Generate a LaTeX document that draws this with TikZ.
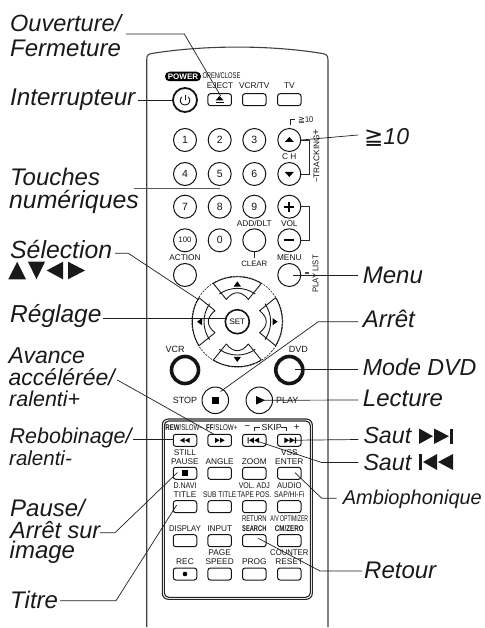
\documentclass[tikz,border=0pt]{standalone}
\usepackage{fontspec}
\setmainfont{Liberation Sans}
\newfontfamily\djv{DejaVu Sans}
\newcommand{\labs}[1]{\fontsize{#1}{#1}\selectfont\itshape}
\newcommand{\cnd}[2]{\scalebox{#1}[1]{#2}}
\tikzset{
 big/.style={inner sep=0pt,anchor=base west,font=\labs{24},text=black!90},
 tiny/.style={inner sep=0pt,font=\fontsize{8.3}{9}\selectfont,text=black!92},
 numb/.style={draw=black!92,line width=1pt,circle,minimum size=23pt,inner sep=0pt,font=\fontsize{10.5}{11}\selectfont,text=black!92},
 btn/.style={draw=black!92,line width=1pt,rectangle,rounded corners=2.5pt,minimum width=23.5pt,minimum height=12pt,inner sep=0pt},
 ring/.style={draw=black!92,circle,inner sep=0pt},
 shell/.style={draw=black!75,line width=1.1pt},
 conn/.style={draw=black!88,line width=.7pt},
 ico/.style={fill=black,draw=none},
 thinl/.style={draw=black!85,line width=.8pt},
}
\begin{document}
\begin{tikzpicture}[x=1pt,y=-1pt]
\useasboundingbox (0,0) rectangle (484,628);
% shell
\draw[shell] (146.7,627) -- (146.7,60) .. controls (146.7,55) and (148,54) .. (153,53.3) .. controls (205,45) and (270,45) .. (321,53.3) .. controls (326,54) and (328,55) .. (328,60) -- (328,627);
% panel
\draw[shell,rounded corners=6pt,draw=black!85] (162.3,419) rectangle (312.3,599.3);
\draw[shell,rounded corners=4.5pt,draw=black!85] (164.3,421) rectangle (310.3,597.3);
% top
\node[fill=black,rounded corners=4.5pt,minimum width=36pt,minimum height=9.5pt,inner sep=0pt,text=white,font=\fontsize{8}{8}\selectfont\bfseries] (tpower) at (183,76.5) {POWER};
\node[tiny] (topen) at (221.5,76) {\cnd{.7}{OPEN/CLOSE}};
\node[tiny] (teject) at (220,85.7) {EJECT};
\node[tiny] (tvcrtv) at (254.3,85.7) {VCR/TV};
\node[tiny] (ttv) at (289.3,85.7) {TV};
\node[ring,line width=1.8pt,minimum size=24pt] (bpower) at (185,100) {};
\draw[line width=.9pt,black!90] (181.7,96.8) .. controls (178.5,100) and (180.5,105) .. (185,105) .. controls (189.5,105) and (191.5,100) .. (188.3,96.8);
\draw[line width=.9pt,black!90] (185,95) -- (185,100.5);
\node[btn] (beject) at (219.7,99.7) {};
\fill[ico] (215.5,100.5) -- (223.5,100.5) -- (219.5,96) -- cycle;
\fill[ico] (215.5,102) rectangle (223.5,103.2);
\node[btn] (bvcrtv) at (254.3,99.7) {};
\node[btn] (btv) at (289.3,99.7) {};
% number pad
\node[numb] (n1) at (185,140) {1};
\node[numb] (n2) at (219.7,140) {2};
\node[numb] (n3) at (254.3,140) {3};
\node[numb] (bup) at (289.3,140) {};
\node[numb] (n4) at (185,174) {4};
\node[numb] (n5) at (219.7,174) {5};
\node[numb] (n6) at (254.3,174) {6};
\node[numb] (bdn) at (289.3,174) {};
\node[numb] (n7) at (185,206.7) {7};
\node[numb] (n8) at (219.7,206.7) {8};
\node[numb] (n9) at (254.3,206.7) {9};
\node[numb] (bplus) at (289.3,206.7) {};
\node[numb,font=\fontsize{7.8}{8}\selectfont] (n100) at (185,240.3) {100};
\node[numb] (n0) at (219.7,240.3) {0};
\node[numb] (badd) at (254.3,240.3) {};
\node[numb] (bminus) at (289.3,240.3) {};
\node[numb] (baction) at (185,275) {};
\node[numb] (bmenu) at (289.3,275) {};
\fill[ico] (284.8,142) -- (293.8,142) -- (289.3,137) -- cycle;
\fill[ico] (284.8,172) -- (293.8,172) -- (289.3,177) -- cycle;
\fill[ico] (284.3,205.8) rectangle (294.3,207.6);
\fill[ico] (288.4,201.7) rectangle (290.2,211.7);
\fill[ico] (284.3,239.4) rectangle (294.3,241.2);
\node[tiny] (tch) at (289.3,156.7) {C H};
\node[tiny] (tvol) at (289.3,224) {VOL};
\node[tiny] (tadd) at (254.3,224) {ADD/DLT};
\node[tiny,font=\fontsize{7.8}{8}\selectfont] (tclear) at (254.3,263.5) {CLEAR};
\node[tiny] (taction) at (185,257.5) {ACTION};
\node[tiny] (tmenu) at (289.3,257.5) {MENU};
\node[tiny,rotate=90] (ttrack) at (316.5,156) {−TRACKING{\fontsize{10.5}{10}\selectfont +}};
\node[tiny,rotate=90] (tplay) at (315.5,274) {\cnd{.93}{PLAY LIST}};
\node[tiny] (tten) at (305.7,120) {{\djv ≧}\cnd{.9}{10}};
\draw[thinl] (290,125) -- (290,119.3) -- (295,119.3);
\draw[thinl] (300.7,140) -- (309.3,140) -- (309.3,174) -- (300.7,174);
\draw[thinl] (300.7,206.7) -- (309.3,206.7) -- (309.3,240.3) -- (300.7,240.3);
\draw[thinl] (254.3,252) -- (254.3,258);
\fill[black!70] (305,272.3) rectangle (308.5,274.3);
% d-pad
\node[ring,line width=.6pt,minimum size=91pt,dash pattern=on 2pt off 1.2pt] (bring) at (237.3,321.7) {};
\foreach \a in {0,90,180,270}{
 \begin{scope}[shift={(237.3,321.7)},rotate=\a]
 \draw[black!90,line width=.9pt,line join=round] (-24,-38.3) .. controls (-9.6,-47.2) and (9.6,-47.2) .. (24,-38.3) -- (11,-22.3) .. controls (4,-31.2) and (-4,-31.2) .. (-11,-22.3) -- cycle;
 \draw[black!90,line width=.9pt] (-18,-27.7) .. controls (-7,-35.2) and (7,-35.2) .. (18,-27.7);
 \fill[ico] (-3.6,-35.2) -- (3.6,-35.2) -- (0,-40.3) -- cycle;
 \end{scope}}
\node[ring,line width=1.6pt,minimum size=24pt,fill=white,font=\fontsize{8}{8}\selectfont] (bset) at (237.3,321.7) {SET};
\node[ring,line width=3.6pt,minimum size=27pt] (bvcr) at (185,370) {};
\node[ring,line width=3.6pt,minimum size=27pt] (bdvd) at (289.3,370) {};
\node[tiny,font=\fontsize{9}{9}\selectfont] (tvcr) at (175,349) {VCR};
\node[tiny,font=\fontsize{9}{9}\selectfont] (tdvd) at (298.3,349) {DVD};
\node[numb,minimum size=26.5pt] (bstop) at (215.3,400.3) {};
\node[numb,minimum size=26.5pt] (bplay) at (259.3,400.3) {};
\fill[ico] (211.7,396.7) rectangle (218.9,403.9);
\fill[ico] (256,396) -- (256,404.6) -- (265,400.3) -- cycle;
\node[tiny,font=\fontsize{9}{9}\selectfont] (tstop) at (185,400.3) {STOP};
\node[tiny,font=\fontsize{9}{9}\selectfont] (tplayb) at (287.3,400.3) {PLAY};
% panel row 1
\node[tiny] (trew) at (184.2,427.3) {\cnd{.74}{\textbf{REW}/SLOW−}};
\node[tiny] (tff) at (221.7,427.3) {\cnd{.75}{\textbf{FF}/SLOW+}};
\node[tiny,font=\fontsize{10}{10}\selectfont] (tm) at (247.3,427.3) {−};
\node[tiny,font=\fontsize{8.8}{9}\selectfont] (tskip) at (271.7,427.3) {SKIP};
\node[tiny,font=\fontsize{10}{10}\selectfont] (tp) at (296.7,427.3) {+};
\draw[thinl] (254.5,431) -- (254.5,427.3) -- (260,427.3);
\draw[thinl] (281,427.3) -- (286,427.3) -- (286,431);
\node[btn] (brew) at (185,440.3) {};
\node[btn] (bff) at (219.7,440.3) {};
\node[btn] (bprev) at (254.3,440.3) {};
\node[btn] (bnext) at (289.3,440.3) {};
\fill[ico] (180,440.3) -- (184.5,437.8) -- (184.5,442.8) -- cycle (185,440.3) -- (189.5,437.8) -- (189.5,442.8) -- cycle;
\fill[ico] (224.7,440.3) -- (220.2,437.8) -- (220.2,442.8) -- cycle (219.7,440.3) -- (215.2,437.8) -- (215.2,442.8) -- cycle;
\fill[ico] (247.5,437.3) rectangle (248.7,443.3) (249,440.3) -- (253.8,437.5) -- (253.8,443.1) -- cycle (254.3,440.3) -- (259.1,437.5) -- (259.1,443.1) -- cycle;
\fill[ico] (296,437.3) rectangle (294.8,443.3) (294.5,440.3) -- (289.7,437.5) -- (289.7,443.1) -- cycle (289.2,440.3) -- (284.4,437.5) -- (284.4,443.1) -- cycle;
% row 2
\node[tiny] (tstill) at (185,452.7) {STILL};
\node[tiny] (tpause) at (185,461.7) {PAUSE};
\node[tiny] (tangle) at (219.7,461.7) {ANGLE};
\node[tiny] (tzoom) at (254.3,461.7) {ZOOM};
\node[tiny] (tvss) at (289.3,452.7) {VSS};
\node[tiny] (tenter) at (289.3,461.7) {ENTER};
\node[btn] (bpause) at (185,473.3) {};
\node[btn] (bangle) at (219.7,473.3) {};
\node[btn] (bzoom) at (254.3,473.3) {};
\node[btn] (benter) at (289.3,473.3) {};
\fill[ico] (182,470.3) rectangle (188,476.3);
% row 3
\node[tiny] (tdnavi) at (185,486) {\cnd{.85}{D.NAVI}};
\node[tiny] (ttitle) at (185,494.3) {TITLE};
\node[tiny] (tsub) at (219.7,494.3) {\cnd{.79}{SUB TITLE}};
\node[tiny] (tvoladj) at (254.3,486) {\cnd{.84}{VOL. ADJ}};
\node[tiny] (ttape) at (254.3,494.3) {\cnd{.78}{TAPE POS.}};
\node[tiny] (taudio) at (289.3,486) {\cnd{.93}{AUDIO}};
\node[tiny] (tsap) at (289.3,494.3) {\cnd{.82}{SAP/HI-Fi}};
\node[btn] (btitle) at (185,506.7) {};
\node[btn] (bsub) at (219.7,506.7) {};
\node[btn] (bvol) at (254.3,506.7) {};
\node[btn] (baudio) at (289.3,506.7) {};
% row 4
\node[tiny] (tdisplay) at (185,528.7) {\cnd{.92}{DISPLAY}};
\node[tiny] (tinput) at (219.7,528.7) {INPUT};
\node[tiny] (treturn) at (254.3,519) {\cnd{.71}{RETURN}};
\node[tiny] (tsearch) at (254.3,528.7) {\cnd{.69}{\textbf{SEARCH}}};
\node[tiny] (toptim) at (289.3,519) {\cnd{.62}{A/V OPTIMIZER}};
\node[tiny] (tcm) at (289.3,528.7) {\cnd{.75}{\textbf{CM/ZERO}}};
\node[btn] (bdisplay) at (185,540.7) {};
\node[btn] (binput) at (219.7,540.7) {};
\node[btn] (bsearch) at (254.3,540.7) {};
\node[btn] (bcm) at (289.3,540.7) {};
% row 5
\node[tiny] (trec) at (185,561.7) {REC};
\node[tiny] (tpage) at (219.7,552.7) {PAGE};
\node[tiny] (tspeed) at (219.7,561.7) {SPEED};
\node[tiny] (tprog) at (254.3,561.7) {PROG};
\node[tiny] (tcounter) at (289.3,552.7) {\cnd{.93}{COUNTER}};
\node[tiny] (treset) at (289.3,561.7) {RESET};
\node[btn] (brec) at (185,574) {};
\node[btn] (bspeed) at (219.7,574) {};
\node[btn] (bprog) at (254.3,574) {};
\node[btn] (breset) at (289.3,574) {};
\fill[ico] (185,574) circle (2.3pt);
% labels left
\node[big,font=\labs{23.5}] (lo1) at (10,31.7) {Ouverture/};
\node[big] (lo2) at (10,56.7) {Fermeture};
\node[big,font=\labs{24.2}] (lint) at (10,106) {Interrupteur};
\node[big] (lt1) at (10,185.7) {Touches};
\node[big,font=\labs{24.8}] (lt2) at (9,208.3) {numériques};
\node[big,font=\labs{24.8}] (lsel) at (10,258.3) {Sélection};
\fill[black!90] (8.3,279.3) -- (26,279.3) -- (17.2,261.7) -- cycle;
\fill[black!90] (28,261.7) -- (45,261.7) -- (36.5,279.3) -- cycle;
\fill[black!90] (46.7,270.5) -- (63,261.7) -- (63,279.3) -- cycle;
\fill[black!90] (68,261.7) -- (68,279.3) -- (85,270.5) -- cycle;
\node[big,font=\labs{24.5}] (lreg) at (10,322.3) {Réglage};
\node[big,font=\labs{23}] (la1) at (8.5,363.3) {Avance};
\node[big,font=\labs{23}] (la2) at (8.5,385) {accélérée/};
\node[big,font=\labs{21.5}] (la3) at (9,406.7) {ralenti+};
\node[big,font=\labs{21.5}] (lr1) at (9.5,443.3) {Rebobinage/};
\node[big,font=\labs{20.5}] (lr2) at (9,465) {ralenti-};
\node[big] (lp1) at (10,516.7) {Pause/};
\node[big,font=\labs{23.5}] (lp2) at (10,538.3) {Arrêt sur};
\node[big] (lp3) at (9.5,558.3) {image};
\node[big] (ltitre) at (10,608) {Titre};
% labels right
\node[big,font=\labs{23}] (lge) at (364,145) {{\djv\itshape ≧}10};
\node[big] (lmenu) at (362.7,283.3) {Menu};
\node[big] (larret) at (362.7,327.3) {Arrêt};
\node[big,font=\labs{23.2}] (lmode) at (362.7,375.7) {Mode DVD};
\node[big] (llect) at (362.7,406.7) {Lecture};
\node[big,font=\labs{23.2}] (ls1) at (363.3,443.3) {Saut};
\node[big,font=\labs{23.2}] (ls2) at (363.3,470) {Saut};
\fill[black!90] (419,428.5) -- (419,444) -- (433,436.2) -- cycle (434,428.5) -- (434,444) -- (449,436.2) -- cycle;
\fill[black!90] (450,428.5) rectangle (453,444);
\fill[black!90] (419,454) rectangle (422,470);
\fill[black!90] (423,462) -- (437,454) -- (437,470) -- cycle (438,462) -- (453,454) -- (453,470) -- cycle;
\node[big,font=\labs{20}] (lamb) at (342.7,504.3) {Ambiophonique};
\node[big] (lret) at (364,578) {Retour};
% connector ends
\coordinate (sou) at (126,34);
\coordinate (kou) at (184.3,34);
\coordinate (eou) at (220.7,96);
\coordinate (sint) at (138.3,100);
\coordinate (ege) at (358,135);
\coordinate (stou) at (134,188.7);
\coordinate (etou) at (220,188.7);
\coordinate (ssel) at (115,253.3);
\coordinate (ksel) at (128.3,253.3);
\coordinate (esel) at (199,300);
\coordinate (sreg) at (103.3,318);
\coordinate (ereg) at (227,318);
\coordinate (smen) at (293.3,275);
\coordinate (emen) at (358.3,275);
\coordinate (ear) at (358.3,321.7);
\coordinate (kar) at (318.3,321.7);
\coordinate (star) at (220.5,391.5);
\coordinate (smod) at (295,369.3);
\coordinate (emod) at (358.3,369.3);
\coordinate (elec) at (358.3,400);
\coordinate (es1) at (358.3,439.5);
\coordinate (es2) at (358.3,462.5);
\coordinate (ks2) at (321.7,462.5);
\coordinate (ss2) at (257.5,441.3);
\coordinate (eam) at (336.7,498.3);
\coordinate (kam) at (321.7,498.3);
\coordinate (sam) at (295,472.7);
\coordinate (eret) at (362,571);
\coordinate (kret) at (320,571);
\coordinate (sret) at (258.3,538.3);
\coordinate (sav) at (117.3,380);
\coordinate (eav) at (214,434.3);
\coordinate (sreb) at (133.3,439.5);
\coordinate (ereb) at (173.5,439.5);
\coordinate (spa) at (100,532.7);
\coordinate (kpa) at (115,532.7);
\coordinate (epa) at (177.5,472.5);
\coordinate (sti) at (60,600.7);
\coordinate (kti) at (116,600.7);
\coordinate (eti) at (176.7,505);
% connectors
\draw[conn] (sou) -- (kou) -- (eou);
\draw[conn] (sint) -- (bpower.west);
\draw[conn] (bup.east) -- (ege);
\draw[conn,draw=black!65] (stou) -- (etou);
\draw[conn] (ssel) -- (ksel) -- (esel);
\draw[conn] (sreg) -- (ereg);
\draw[conn] (smen) -- (emen);
\draw[conn] (ear) -- (kar) -- (star);
\draw[conn] (smod) -- (emod);
\draw[conn] (bplay.center) -- (elec);
\draw[conn] (bnext.center) -- (es1);
\draw[conn] (ss2) -- (ks2) -- (es2);
\draw[conn] (sam) -- (kam) -- (eam);
\draw[conn] (sret) -- (kret) -- (eret);
\draw[conn] (sav) -- (eav);
\draw[conn] (sreb) -- (ereb);
\draw[conn] (spa) -- (kpa) -- (epa);
\draw[conn] (sti) -- (kti) -- (eti);
\end{tikzpicture}
\end{document}
